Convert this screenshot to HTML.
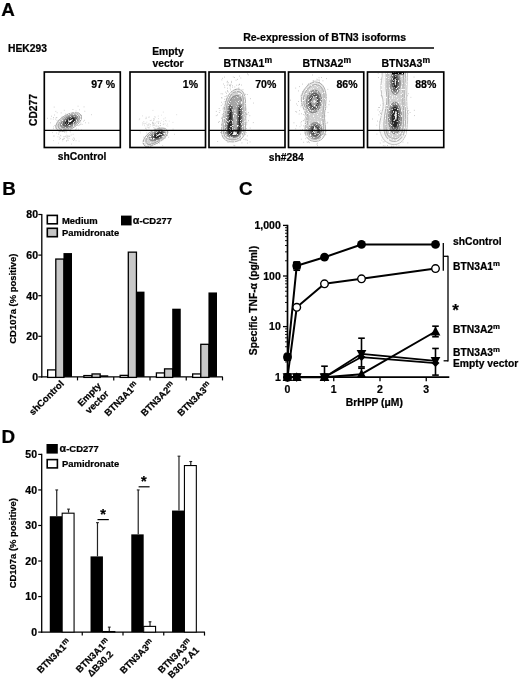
<!DOCTYPE html>
<html><head><meta charset="utf-8"><title>Figure</title>
<style>
html,body{margin:0;padding:0;background:#fff;}
svg{display:block}
text{font-family:"Liberation Sans",Arial,Helvetica,sans-serif;font-weight:bold;fill:#000;stroke:#000;stroke-width:0.22px}
</style></head><body>
<svg width="520" height="681" viewBox="0 0 520 681">
<rect width="520" height="681" fill="#fff"/>
<text x="1.3" y="16.3" font-size="18.8" text-anchor="start" >A</text>
<text x="8" y="52" font-size="10.3" text-anchor="start" >HEK293</text>
<text x="168" y="55" font-size="10.3" text-anchor="middle" >Empty</text>
<text x="168" y="67" font-size="10.3" text-anchor="middle" >vector</text>
<text x="324.6" y="41.3" font-size="10.5" text-anchor="middle" >Re-expression of BTN3 isoforms</text>
<line x1="218.75" y1="48" x2="434" y2="48" stroke="#000" stroke-width="1.3" stroke-linecap="butt"/>
<text x="247.8" y="66.8" font-size="10.55" text-anchor="middle" >BTN3A1<tspan font-size="8.6" dy="-3.4">m</tspan></text>
<text x="326.8" y="66.8" font-size="10.55" text-anchor="middle" >BTN3A2<tspan font-size="8.6" dy="-3.4">m</tspan></text>
<text x="405.8" y="66.8" font-size="10.55" text-anchor="middle" >BTN3A3<tspan font-size="8.6" dy="-3.4">m</tspan></text>
<defs><filter id="bl" x="-20%" y="-20%" width="140%" height="140%"><feGaussianBlur in="SourceGraphic" stdDeviation="0.4" result="b"/><feTurbulence type="fractalNoise" baseFrequency="0.75" numOctaves="2" seed="5" result="n"/><feColorMatrix in="n" type="matrix" values="0 0 0 0 1  0 0 0 0 1  0 0 0 0 1  0 0 0 -6 2.5" result="w"/><feComposite in="w" in2="b" operator="in" result="wm"/><feMerge><feMergeNode in="b"/><feMergeNode in="wm"/></feMerge></filter></defs>
<g filter="url(#bl)">
<path d="M67.0 123.8h.7M67.2 119.3h.7M61.6 119.8h.7M77.9 123.3h.7M77.3 122.4h.7M72.2 122.0h.7M55.7 125.7h.7M73.1 123.7h.7M55.5 111.4h.7M61.9 118.4h.7M71.4 120.7h.7M73.2 117.5h.7M71.5 123.2h.7M63.7 130.4h.7M73.5 127.6h.7M64.0 116.9h.7M66.2 120.4h.7M74.1 122.4h.7M65.4 115.7h.7M64.8 127.7h.7M62.5 122.3h.7M72.4 112.8h.7M69.4 128.2h.7M52.9 119.2h.7M68.2 116.5h.7M73.0 120.7h.7M57.3 125.6h.7M74.4 126.2h.7M80.5 123.0h.7M70.0 113.9h.7M73.9 117.6h.7M65.4 114.0h.7M61.3 118.1h.7M79.3 109.8h.7M57.3 122.3h.7M80.5 124.2h.7M53.8 107.1h.7M71.9 117.0h.7M60.0 126.4h.7M77.8 121.9h.7M71.0 123.4h.7M81.8 124.4h.7M73.1 124.0h.7M56.5 128.0h.7M76.6 123.9h.7M53.2 117.5h.7M75.7 111.0h.7M67.5 126.6h.7M58.5 129.9h.7M73.4 120.2h.7M71.6 124.6h.7M70.0 127.3h.7M63.7 118.7h.7M77.3 121.1h.7M62.0 126.2h.7M80.7 118.6h.7M58.0 120.3h.7M67.8 119.4h.7M80.2 115.4h.7M79.1 114.0h.7M62.7 124.5h.7M78.0 125.7h.7M71.8 121.8h.7M70.2 124.2h.7M67.6 122.5h.7M73.6 121.0h.7M75.1 124.1h.7M85.1 122.8h.7M65.6 119.0h.7M68.9 126.1h.7M66.3 123.1h.7M83.7 106.9h.7M60.0 122.3h.7M72.2 122.3h.7M65.6 124.6h.7M71.3 118.1h.7M88.4 123.0h.7M64.6 120.5h.7M67.2 120.7h.7M47.2 118.3h.7M77.1 114.6h.7M68.5 126.2h.7M75.8 129.2h.7M55.4 119.1h.7M66.3 124.4h.7M77.7 106.2h.7M77.7 113.0h.7M74.5 112.8h.7M70.4 127.6h.7M67.8 122.1h.7M75.4 121.8h.7M68.3 129.4h.7M77.4 119.4h.7M91.0 114.7h.7M76.3 119.5h.7M70.1 124.9h.7M70.8 124.5h.7M56.8 112.7h.7M73.9 115.7h.7M60.8 112.9h.7M79.1 125.1h.7M80.8 115.8h.7M69.0 114.7h.7M75.1 129.7h.7M61.9 129.6h.7M76.9 120.0h.7M53.2 128.7h.7M68.2 117.7h.7M72.2 123.3h.7M81.0 115.4h.7M78.1 129.2h.7M80.6 120.0h.7M63.0 126.6h.7M69.9 121.7h.7M80.4 119.6h.7M50.6 118.9h.7M54.2 125.5h.7M71.5 117.6h.7M68.9 125.6h.7M69.6 128.3h.7M68.5 126.7h.7M80.9 129.9h.7M63.6 125.8h.7M54.0 115.0h.7M53.3 126.9h.7M59.1 120.9h.7M67.5 120.8h.7M64.3 122.3h.7M83.3 121.2h.7M73.2 126.5h.7M67.4 114.1h.7M64.6 126.9h.7M55.8 117.7h.7M77.1 125.4h.7M69.1 125.4h.7M70.3 114.5h.7M56.5 117.5h.7M76.4 117.9h.7M61.8 116.8h.7M56.7 120.4h.7M59.6 123.0h.7M50.1 122.8h.7M63.9 110.3h.7M74.8 119.5h.7M51.2 116.2h.7M71.3 118.5h.7M75.2 125.1h.7M74.3 122.8h.7M79.7 124.6h.7M72.6 109.5h.7M76.2 128.2h.7M66.6 118.4h.7M84.5 111.3h.7M72.8 134.3h.7M61.6 124.8h.7M84.1 120.3h.7M73.5 126.0h.7M61.8 120.5h.7M71.3 125.5h.7M68.7 119.9h.7" stroke="#a8a8a8" stroke-width="0.7" fill="none"/>
<path d="M58.4 134.4h.7M68.9 136.5h.7M59.3 132.2h.7M78.7 141.1h.7M67.5 124.3h.7M67.4 138.2h.7M73.3 137.9h.7M63.6 138.4h.7M53.3 140.6h.7M65.8 132.8h.7M71.3 144.1h.7M56.3 133.0h.7M65.6 136.8h.7M61.8 131.6h.7M75.7 140.7h.7M57.4 129.9h.7M73.4 140.5h.7M74.0 139.6h.7M59.2 137.2h.7M52.1 132.6h.7M63.7 138.4h.7M60.0 135.4h.7M66.5 137.7h.7M67.5 136.9h.7M62.2 139.6h.7M64.3 132.3h.7M60.6 136.0h.7M63.4 136.7h.7M64.0 136.8h.7M63.3 130.3h.7M66.3 140.7h.7M66.4 135.1h.7M66.5 131.7h.7M53.6 136.3h.7M58.9 139.3h.7M58.0 124.2h.7M58.3 143.1h.7M61.9 129.8h.7M59.8 138.3h.7M66.7 136.8h.7M72.2 139.2h.7M63.9 138.7h.7M73.1 140.4h.7M69.6 131.1h.7M63.2 139.3h.7M62.4 140.8h.7M67.3 140.1h.7M70.8 135.0h.7M62.1 139.9h.7M69.4 136.0h.7M57.6 136.8h.7M66.0 141.1h.7M68.3 136.1h.7M68.7 138.4h.7M65.1 136.2h.7M62.7 139.1h.7M58.2 133.2h.7M64.0 129.4h.7M61.6 127.0h.7M60.2 138.6h.7M67.1 135.8h.7M62.7 129.6h.7M74.1 138.3h.7M70.0 132.0h.7M63.0 127.8h.7M68.3 140.2h.7M53.6 135.8h.7M67.5 128.1h.7" stroke="#b4b4b4" stroke-width="0.7" fill="none"/>
<g transform="translate(68.6,122) rotate(-29)">
<ellipse cx="0" cy="0" rx="14.2" ry="7.4" fill="#e6e6e6" stroke="#6e6e6e" stroke-width="0.5"/>
<ellipse cx="0.3" cy="0" rx="12" ry="6.1" fill="#d0d0d0" stroke="#777" stroke-width="0.5"/>
<ellipse cx="0.8" cy="0" rx="9.8" ry="4.9" fill="#a4a4a4" stroke="#5a5a5a" stroke-width="0.5"/>
<ellipse cx="1.2" cy="0" rx="7.6" ry="3.7" fill="#6a6a6a" stroke="#3a3a3a" stroke-width="0.5"/>
<ellipse cx="1.5" cy="0" rx="5.2" ry="2.4" fill="#262626" stroke="#111" stroke-width="0.4"/>
<ellipse cx="2.0" cy="0" rx="2.6" ry="0.75" fill="#f4f4f4" stroke="none" stroke-width="0.5"/>
</g></g>
<g filter="url(#bl)">
<path d="M139.4 118.7h.7M149.0 117.0h.7M154.3 125.2h.7M159.1 127.5h.7M166.0 129.8h.7M143.5 121.5h.7M145.5 118.6h.7M153.3 124.0h.7M157.9 116.1h.7M144.1 123.9h.7M152.4 122.4h.7M153.5 120.2h.7M159.6 125.8h.7M153.3 120.6h.7M152.6 110.4h.7M146.1 124.2h.7M142.0 125.0h.7M155.2 117.1h.7M152.0 122.4h.7M157.7 127.1h.7M153.7 119.7h.7M152.8 123.7h.7M159.9 125.5h.7M148.2 117.2h.7M151.0 120.3h.7M145.1 123.4h.7M150.1 124.5h.7M158.2 121.9h.7M172.6 122.4h.7M162.8 124.6h.7M162.9 112.1h.7M148.0 125.2h.7M158.8 135.7h.7M156.6 130.4h.7M160.1 128.7h.7M158.1 123.2h.7M158.1 118.6h.7M163.5 118.9h.7M156.0 134.6h.7M152.2 124.1h.7M163.3 124.1h.7M147.5 125.3h.7M158.7 127.6h.7M147.8 132.8h.7M167.3 124.1h.7M156.1 121.9h.7M165.3 120.5h.7M159.4 121.6h.7M148.4 127.6h.7M164.7 123.9h.7M148.6 128.1h.7M153.6 125.6h.7M166.2 129.7h.7M149.8 135.4h.7M154.0 127.9h.7M148.8 123.8h.7M140.0 132.9h.7M164.9 117.9h.7M142.0 115.9h.7M163.4 121.7h.7M153.5 122.4h.7M153.0 118.6h.7M154.2 116.8h.7M153.4 125.5h.7M157.7 122.8h.7M146.8 124.8h.7M150.1 131.8h.7M160.1 123.4h.7M150.2 120.5h.7M146.5 122.2h.7M156.4 126.6h.7M158.6 134.5h.7M148.4 124.1h.7M176.4 114.7h.7M149.8 124.8h.7M155.2 126.0h.7M152.1 125.8h.7M154.4 127.9h.7M138.9 119.6h.7M154.0 118.8h.7M145.6 127.1h.7M148.8 127.2h.7M160.0 125.5h.7M158.1 123.5h.7M142.7 123.8h.7M157.6 121.4h.7M153.2 127.7h.7M147.0 127.2h.7M168.9 121.2h.7M155.2 123.2h.7M166.3 125.6h.7M161.2 120.5h.7M153.9 124.0h.7M139.8 131.2h.7M161.2 115.3h.7M160.0 123.3h.7M157.6 125.8h.7M142.0 122.9h.7M165.9 121.1h.7M145.8 117.2h.7M144.2 125.7h.7M167.5 126.1h.7M156.0 135.2h.7M149.8 120.6h.7M158.2 126.7h.7M145.9 118.2h.7M156.3 125.2h.7M143.5 123.0h.7M149.7 126.3h.7M153.1 123.6h.7" stroke="#c0c0c0" stroke-width="0.7" fill="none"/>
<path d="M152.2 141.2h.7M166.1 135.5h.7M161.8 134.0h.7M155.6 140.0h.7M167.1 135.5h.7M154.4 137.8h.7M143.0 137.1h.7M149.6 138.5h.7M146.0 129.1h.7M155.3 138.0h.7M150.6 140.6h.7M152.8 134.6h.7M158.8 130.7h.7M149.6 136.9h.7M161.8 136.3h.7M157.5 134.4h.7M157.4 143.7h.7M149.5 146.5h.7M149.8 137.1h.7M156.4 141.1h.7M145.1 128.6h.7M159.8 140.2h.7M156.6 138.0h.7M162.4 138.5h.7M168.3 132.0h.7M152.0 123.2h.7M161.5 135.5h.7M162.4 145.6h.7M155.0 136.0h.7M151.0 133.6h.7M150.0 139.6h.7M155.3 137.3h.7M153.6 140.7h.7M159.0 136.4h.7M160.3 136.4h.7M145.8 142.8h.7M158.7 133.2h.7M163.6 138.4h.7M142.5 143.4h.7M157.7 140.6h.7M156.6 136.4h.7M142.6 140.9h.7M155.2 135.9h.7M157.8 137.3h.7M160.4 135.5h.7M154.7 128.4h.7M151.6 139.7h.7M165.7 135.5h.7M154.0 143.3h.7M152.4 139.9h.7M168.4 137.2h.7M164.8 134.2h.7M156.7 136.7h.7M155.9 141.5h.7M174.1 134.3h.7M150.4 139.0h.7M146.6 139.0h.7M159.6 135.9h.7M159.2 130.8h.7M161.1 130.8h.7M149.4 134.8h.7M151.8 140.4h.7M155.7 135.4h.7M159.3 143.3h.7M155.0 138.5h.7M164.9 138.1h.7M172.7 129.1h.7M154.7 138.7h.7M162.7 139.7h.7M152.8 132.8h.7M155.8 141.1h.7M146.3 132.9h.7M154.8 129.3h.7M152.9 135.3h.7M158.6 134.2h.7M147.9 135.4h.7M154.6 134.3h.7M155.1 140.0h.7" stroke="#b0b0b0" stroke-width="0.7" fill="none"/>
<g transform="translate(155.2,136.6) rotate(-27)">
<path d="M-13.5,3.5 C-15,-1 -10,-5.5 -2,-6.3 C6,-7 13.5,-4.5 13.5,0 C13.5,4.5 6,7 -2,6.8 C-8,6.6 -12.5,6.5 -13.5,3.5Z" fill="#e6e6e6" stroke="#6e6e6e" stroke-width="0.5"/>
<path d="M-10.5,2.8 C-11.5,-1 -8,-4.4 -1.5,-5 C5,-5.6 11.3,-3.6 11.3,0 C11.3,3.6 5,5.5 -1.5,5.4 C-6,5.3 -9.8,5.2 -10.5,2.8Z" fill="#d0d0d0" stroke="#777" stroke-width="0.5"/>
<ellipse cx="2.0" cy="0" rx="8.3" ry="4.1" fill="#a4a4a4" stroke="#5a5a5a" stroke-width="0.5"/>
<ellipse cx="2.8" cy="0" rx="6.4" ry="3.1" fill="#6a6a6a" stroke="#3a3a3a" stroke-width="0.5"/>
<ellipse cx="3.3" cy="0" rx="4.4" ry="2.0" fill="#262626" stroke="#111" stroke-width="0.4"/>
<ellipse cx="3.8" cy="0" rx="2.4" ry="0.6" fill="#f4f4f4" stroke="none" stroke-width="0.5"/>
</g></g>
<g filter="url(#bl)">
<path d="M241.2 138.6h.7M228.4 106.7h.7M217.4 141.5h.7M228.8 112.5h.7M236.9 92.6h.7M236.5 112.6h.7M221.6 117.4h.7M241.3 85.0h.7M238.7 116.1h.7M236.6 119.6h.7M242.0 109.6h.7M239.2 106.9h.7M238.2 100.8h.7M232.8 139.0h.7M236.4 110.6h.7M226.1 101.1h.7M234.8 127.1h.7M236.3 120.9h.7M233.2 133.3h.7M231.0 104.8h.7M239.3 114.0h.7M231.7 104.4h.7M231.8 122.4h.7M235.8 94.9h.7M236.3 115.7h.7M227.0 124.6h.7M231.7 108.0h.7M238.7 132.8h.7M229.0 119.6h.7M230.3 130.9h.7M229.3 125.2h.7M247.9 74.9h.7M230.7 120.5h.7M232.9 103.0h.7M247.5 114.2h.7M222.8 125.8h.7M222.3 130.3h.7M229.7 115.2h.7M241.7 114.8h.7M224.5 87.6h.7M241.2 124.1h.7M228.2 125.9h.7M236.7 122.7h.7M218.8 108.5h.7M239.4 124.0h.7M239.2 76.1h.7M234.6 120.4h.7M250.1 98.7h.7M231.4 113.5h.7M239.3 106.4h.7M241.0 101.2h.7M235.2 105.1h.7M234.5 102.6h.7M223.1 129.4h.7M235.5 104.6h.7M234.8 127.9h.7M227.1 111.3h.7M237.0 120.9h.7M231.3 81.4h.7M241.6 117.9h.7M233.6 108.8h.7M235.2 106.6h.7M226.8 101.9h.7M229.6 103.8h.7M226.0 122.5h.7M225.0 122.9h.7M226.9 118.3h.7M242.4 116.0h.7M228.7 113.7h.7M234.5 87.0h.7M229.6 115.4h.7M230.5 114.2h.7M238.3 124.5h.7M239.4 121.8h.7M231.6 112.7h.7M231.7 108.3h.7M232.3 87.1h.7M231.3 112.6h.7M227.2 112.6h.7M236.9 110.5h.7M247.0 73.9h.7M232.2 85.6h.7M217.2 114.9h.7M236.9 108.5h.7M237.1 79.4h.7M239.0 118.6h.7M233.6 104.2h.7M237.6 105.7h.7M235.0 105.3h.7M218.9 112.5h.7M234.8 124.3h.7M227.8 112.5h.7M237.5 115.2h.7M241.6 142.9h.7M227.6 84.2h.7M239.1 135.9h.7M239.5 125.2h.7M229.5 102.3h.7M239.3 99.3h.7M221.7 98.0h.7M249.7 141.9h.7M229.0 102.1h.7M235.0 101.8h.7M242.0 111.8h.7M226.4 132.6h.7M229.7 116.3h.7M233.4 108.3h.7M235.6 102.6h.7M221.5 79.9h.7M225.3 101.6h.7M233.4 113.8h.7M237.1 114.8h.7M228.3 102.4h.7M219.7 110.5h.7M236.7 120.9h.7M232.7 110.4h.7M239.6 113.2h.7M238.3 121.7h.7M234.9 132.6h.7M229.8 107.6h.7M228.2 101.0h.7M243.6 139.4h.7M233.6 121.5h.7M241.1 125.1h.7M241.3 94.1h.7M229.3 119.8h.7M242.8 114.6h.7M227.9 107.7h.7M229.2 100.1h.7M243.3 103.6h.7M233.6 145.4h.7M241.2 118.0h.7M229.5 119.2h.7M244.0 122.3h.7M241.7 114.5h.7M236.9 110.0h.7M236.3 132.5h.7M224.2 112.1h.7M235.1 104.4h.7M231.5 124.8h.7M246.5 122.4h.7M235.6 89.7h.7M246.0 114.2h.7M233.3 96.2h.7M233.1 96.6h.7M234.0 120.0h.7M233.7 117.2h.7M228.0 134.4h.7M229.3 85.7h.7M232.3 101.5h.7M226.9 107.7h.7M235.4 95.3h.7M232.6 134.4h.7M237.9 110.7h.7M234.3 111.2h.7M233.2 124.0h.7M232.9 76.9h.7M233.4 99.7h.7M237.7 103.8h.7M234.5 145.7h.7M226.7 96.1h.7M224.3 77.1h.7M221.3 118.5h.7M229.4 85.0h.7M223.9 122.3h.7M228.5 107.5h.7M235.6 133.3h.7M246.1 128.5h.7M234.4 115.8h.7M245.2 134.4h.7M231.5 119.9h.7M235.4 113.8h.7M230.2 93.1h.7M230.0 89.8h.7M241.5 121.0h.7M225.7 133.9h.7M239.3 84.4h.7M245.5 125.1h.7M246.9 94.5h.7M236.9 119.3h.7M234.8 115.6h.7M240.3 90.6h.7M225.4 92.1h.7M229.9 103.9h.7M235.9 117.0h.7M233.7 102.9h.7M230.6 127.3h.7M238.5 114.5h.7M231.4 136.3h.7M229.6 122.7h.7M241.0 109.0h.7M238.9 96.3h.7M240.1 116.0h.7M223.2 123.0h.7M227.7 132.2h.7M229.1 110.5h.7M235.3 108.0h.7M235.2 104.7h.7M237.9 113.1h.7M241.0 113.5h.7M221.9 114.4h.7M236.5 129.1h.7M226.5 136.2h.7M232.5 123.2h.7M231.1 96.3h.7M240.6 126.6h.7M243.5 125.9h.7M229.8 88.1h.7M229.3 102.9h.7M228.2 121.7h.7M235.6 109.0h.7M234.6 110.8h.7M234.9 124.3h.7M239.7 102.7h.7M223.7 134.4h.7M234.2 129.6h.7M222.8 108.1h.7M233.7 91.4h.7M230.1 123.9h.7M240.5 136.9h.7M227.9 92.0h.7M236.9 127.1h.7M234.8 93.5h.7M238.6 124.9h.7M237.1 105.7h.7M235.5 124.9h.7M229.9 85.3h.7M235.6 120.2h.7M233.6 126.3h.7M229.7 111.8h.7M231.5 121.6h.7M243.9 109.2h.7M246.9 135.9h.7M238.6 121.8h.7M245.0 110.3h.7M232.8 97.1h.7M236.6 133.2h.7M237.0 119.3h.7M232.2 115.5h.7M224.2 128.7h.7M230.8 96.4h.7M228.6 100.6h.7M239.1 128.9h.7M224.7 126.9h.7M239.3 104.3h.7M223.8 101.8h.7M229.4 118.1h.7M231.2 82.6h.7M235.0 90.0h.7M239.4 94.9h.7M229.0 100.2h.7M230.0 132.5h.7M239.0 122.0h.7M235.6 89.8h.7M230.1 104.7h.7M227.1 120.6h.7M228.7 102.4h.7M226.7 82.1h.7M237.4 133.0h.7M234.6 98.4h.7M215.9 115.6h.7M241.4 117.5h.7M239.5 135.2h.7M240.8 106.4h.7M240.3 124.6h.7M223.5 106.9h.7M224.2 111.4h.7M237.3 97.0h.7M220.1 132.5h.7M235.9 135.1h.7M224.9 128.9h.7M247.0 143.1h.7M232.1 117.0h.7M232.5 128.0h.7M240.2 114.3h.7M224.7 124.1h.7M230.4 122.4h.7M235.2 137.4h.7M240.9 106.2h.7M235.8 139.5h.7M230.0 119.5h.7M241.2 131.9h.7M236.9 93.2h.7M225.3 116.7h.7M227.9 130.1h.7M238.5 87.9h.7M228.2 115.5h.7M230.3 110.7h.7M236.6 100.9h.7M236.5 103.5h.7M230.0 121.1h.7M229.8 117.3h.7M243.9 113.4h.7M232.6 124.0h.7M231.1 129.2h.7M225.2 122.3h.7M230.2 101.0h.7M245.0 100.2h.7M244.9 122.9h.7M242.9 98.3h.7M241.3 134.9h.7M232.7 111.1h.7M249.5 115.7h.7M230.8 103.6h.7M236.4 118.0h.7M234.7 138.8h.7M231.4 120.1h.7M243.0 97.9h.7M240.3 140.5h.7M224.7 96.5h.7M226.8 85.3h.7M236.4 85.2h.7M236.7 134.8h.7M223.0 108.3h.7M221.0 124.7h.7M228.7 109.0h.7M233.9 121.2h.7M231.2 113.2h.7M229.9 114.7h.7M225.9 114.0h.7M220.9 105.6h.7M245.9 114.2h.7M225.3 116.9h.7M227.2 88.2h.7M228.7 124.1h.7M236.0 111.5h.7M227.5 96.8h.7M242.3 116.7h.7M227.3 81.3h.7M226.0 111.8h.7M234.9 110.6h.7M231.7 92.4h.7M226.7 138.3h.7M228.6 125.7h.7M222.5 108.9h.7M235.2 128.5h.7M226.2 121.9h.7M236.0 101.9h.7M236.6 99.5h.7M228.3 112.7h.7M215.9 111.4h.7M227.0 91.1h.7M230.7 124.4h.7M230.9 132.0h.7M226.0 93.3h.7M243.6 119.0h.7M239.6 100.6h.7M238.7 116.9h.7M237.7 113.4h.7M241.3 103.3h.7M227.2 90.8h.7M241.0 101.9h.7M226.7 98.9h.7M230.6 93.9h.7M231.6 103.6h.7M229.9 98.6h.7M233.7 106.1h.7M234.2 116.7h.7M235.7 80.2h.7M230.0 101.1h.7M238.5 89.3h.7M228.9 108.6h.7M231.3 127.9h.7M230.6 127.5h.7M224.0 85.8h.7M241.4 119.5h.7M236.7 114.8h.7M236.6 94.8h.7M239.7 105.0h.7M239.9 114.3h.7M220.7 93.7h.7M240.8 110.9h.7M230.9 116.6h.7M230.7 104.8h.7M234.2 115.2h.7M243.4 113.7h.7M245.7 140.0h.7M244.7 128.9h.7M234.3 115.1h.7M232.6 102.0h.7M233.1 103.4h.7M244.2 121.0h.7M230.6 84.3h.7M233.2 106.8h.7M226.4 96.0h.7M218.9 121.5h.7M233.3 110.8h.7M242.9 115.0h.7M234.6 107.4h.7M229.6 135.5h.7M240.0 138.7h.7M231.2 113.5h.7M227.8 127.5h.7M224.4 121.5h.7M240.6 134.2h.7M227.4 129.3h.7M228.9 101.6h.7M224.9 130.3h.7M244.2 104.1h.7M228.6 107.9h.7M249.8 128.1h.7M230.0 86.1h.7M229.1 130.8h.7M245.6 109.0h.7M229.0 105.4h.7M221.2 126.6h.7M226.4 128.9h.7M222.4 93.9h.7M235.4 101.5h.7M238.6 113.1h.7M225.9 122.3h.7M239.0 84.3h.7M245.4 120.5h.7M238.4 85.1h.7M228.8 107.8h.7M240.5 91.1h.7M227.8 82.6h.7M231.9 118.2h.7M222.5 104.1h.7M236.8 136.8h.7M237.8 108.4h.7M225.8 99.0h.7M229.2 115.2h.7M233.2 138.0h.7M235.4 96.9h.7M243.5 127.2h.7M234.2 102.2h.7M221.3 97.7h.7M239.4 101.0h.7M224.9 115.9h.7M235.1 122.1h.7M237.8 134.1h.7M228.0 127.7h.7M227.1 123.4h.7M234.7 116.6h.7M239.8 112.7h.7M240.7 126.1h.7M234.4 104.5h.7M228.6 105.1h.7M232.2 112.6h.7M252.9 122.6h.7M238.5 100.1h.7M228.9 108.2h.7M234.7 97.5h.7M244.0 104.6h.7M240.5 78.0h.7M233.5 117.2h.7M234.7 122.0h.7M235.3 115.4h.7M221.2 102.3h.7M218.3 122.4h.7M235.5 110.1h.7M228.2 104.3h.7M245.5 139.0h.7M233.1 132.3h.7M223.2 84.0h.7M230.4 99.9h.7M229.9 115.8h.7M253.2 103.1h.7M233.8 117.1h.7M233.3 127.0h.7M245.0 94.3h.7M234.6 109.0h.7M235.8 90.0h.7M222.1 78.3h.7M236.9 115.9h.7M234.0 77.5h.7M231.1 101.7h.7M224.3 99.3h.7M238.0 121.2h.7M233.4 120.7h.7M229.6 114.1h.7M233.8 121.3h.7M233.0 110.9h.7M232.6 103.3h.7M248.0 120.7h.7M242.6 89.7h.7M238.0 125.6h.7M245.8 132.7h.7M238.5 95.3h.7M227.8 117.0h.7M236.8 97.7h.7M231.0 107.0h.7M233.9 118.0h.7M231.6 94.4h.7M241.6 136.9h.7M232.8 128.4h.7M236.4 122.9h.7M236.6 101.6h.7M237.2 128.2h.7M227.7 142.5h.7M247.1 140.3h.7M246.4 124.1h.7M231.3 104.0h.7M228.2 114.7h.7M233.3 123.1h.7M248.3 112.6h.7M237.9 120.1h.7M235.3 109.9h.7M232.7 100.6h.7M234.7 112.6h.7M235.6 100.2h.7M233.8 113.7h.7M237.4 97.1h.7M236.2 127.7h.7M237.4 107.5h.7M230.3 109.5h.7M238.2 136.3h.7M232.5 103.4h.7M235.9 116.1h.7M227.6 101.9h.7" stroke="#9a9a9a" stroke-width="0.7" fill="none"/>
<g transform="translate(234,115)">
<path d="M4,-26 C9,-26 11.5,-20 11.5,-12 C12,-2 12,10 11,17 C10,24 4,27 -2,27 C-8,27 -12.5,23 -12.5,17 C-12.5,10 -11,2 -10,-4 C-9,-12 -7,-19 -3,-23 C-1,-25 2,-26 4,-26Z" fill="#e6e6e6" stroke="#6e6e6e" stroke-width="0.5"/>
<path d="M4,-23.5 C8,-23.5 9.8,-18 9.8,-11 C10.2,-2 10.2,9 9.3,16 C8.5,22 3.5,24.8 -1.8,24.8 C-7,24.8 -10.6,21.5 -10.6,16.5 C-10.6,10 -9.2,2 -8.2,-4 C-7.2,-11 -5.6,-17.5 -2.4,-21 C-0.8,-22.8 2,-23.5 4,-23.5Z" fill="#d0d0d0" stroke="#777" stroke-width="0.5"/>
<path d="M3.6,-19.5 C6.8,-19.5 8,-15 8,-9 C8.3,-1 8.3,9 7.6,15 C7,20.5 3,22.6 -1.4,22.6 C-5.8,22.6 -8.6,20 -8.6,15.8 C-8.6,10 -7.4,3 -6.6,-3 C-5.8,-9.5 -4.6,-14.5 -2,-17.5 C-0.6,-19 1.8,-19.5 3.6,-19.5Z" fill="#a4a4a4" stroke="#5a5a5a" stroke-width="0.5"/>
<path d="M-4.6,-9 C-3.2,-10.5 -1.6,-9.5 -1.6,-7 L-1.2,14 C-1,16.5 3,16.5 3.4,14 L4,-7.5 C4,-10 5.8,-10.5 6.9,-9 C7.6,-3 7.6,8 7,14.5 C6.3,20.5 2.6,21.6 -0.8,21.6 C-4.8,21.6 -7,19.5 -7,15 C-7,8 -5.8,-2 -4.6,-9Z" fill="#6a6a6a" stroke="#3a3a3a" stroke-width="0.4"/>
<path d="M-3.9,-6 C-3.3,-7 -2.5,-6.5 -2.5,-5 L-2.2,14.5 C-2,18 4,18 4.4,14.5 L4.9,-5.5 C4.9,-7 5.6,-7.3 6.1,-6.3 C6.5,-2 6.5,8 6,14.5 C5.4,19.8 2.4,20.6 -0.6,20.6 C-4,20.6 -5.9,18.8 -5.9,15 C-5.9,9 -4.8,0 -3.9,-6Z" fill="#262626" stroke="none" stroke-width="0.5"/>
<ellipse cx="1.0" cy="18.6" rx="1.9" ry="1.5" fill="#fafafa" stroke="none" stroke-width="0.5"/>
<path d="M0.6,-6 L1.6,-6 L1.4,10 L0.8,10Z" fill="#c8c8c8" stroke="none" stroke-width="0.5"/>
</g></g>
<g filter="url(#bl)">
<path d="M312.8 121.7h.7M305.1 94.7h.7M317.0 91.4h.7M314.3 116.6h.7M312.7 94.7h.7M313.1 105.7h.7M315.9 97.6h.7M321.1 84.2h.7M312.3 111.1h.7M320.2 101.3h.7M317.3 101.9h.7M318.7 138.8h.7M310.7 118.1h.7M307.0 126.6h.7M322.0 111.6h.7M305.6 117.4h.7M321.5 128.4h.7M319.2 81.7h.7M308.7 133.8h.7M304.9 129.1h.7M326.7 123.2h.7M321.3 105.7h.7M304.9 109.4h.7M312.1 110.2h.7M318.4 108.7h.7M314.8 117.8h.7M313.5 140.5h.7M316.6 112.4h.7M312.0 101.0h.7M322.9 113.4h.7M305.9 102.0h.7M312.5 103.9h.7M321.1 92.4h.7M316.9 113.3h.7M305.3 111.8h.7M312.8 119.0h.7M310.3 115.9h.7M301.8 93.7h.7M319.0 127.7h.7M313.4 101.4h.7M321.1 77.5h.7M307.9 121.8h.7M318.1 94.5h.7M300.3 134.2h.7M314.6 96.7h.7M313.9 125.4h.7M295.4 128.8h.7M318.7 77.7h.7M318.9 82.5h.7M321.5 117.4h.7M329.3 101.2h.7M313.5 127.8h.7M309.0 99.7h.7M310.9 109.8h.7M305.9 118.7h.7M317.3 112.1h.7M325.4 105.8h.7M322.6 102.3h.7M318.8 80.0h.7M314.9 108.2h.7M310.0 101.2h.7M311.1 99.5h.7M298.1 101.5h.7M309.7 102.6h.7M306.1 108.8h.7M319.0 107.0h.7M310.1 132.7h.7M320.3 125.7h.7M321.6 105.8h.7M312.6 128.8h.7M309.6 109.1h.7M316.1 117.0h.7M311.6 126.7h.7M312.3 122.6h.7M321.0 121.5h.7M318.6 92.4h.7M304.3 101.1h.7M316.8 135.0h.7M304.9 115.9h.7M307.5 99.3h.7M311.6 122.1h.7M315.0 129.9h.7M306.6 125.2h.7M320.0 112.1h.7M316.8 102.0h.7M305.9 104.5h.7M310.1 137.4h.7M314.9 116.0h.7M318.7 98.5h.7M319.9 117.0h.7M302.9 120.6h.7M317.4 118.2h.7M324.6 104.4h.7M317.1 123.0h.7M307.2 130.2h.7M303.3 90.2h.7M317.2 93.6h.7M312.7 84.7h.7M314.0 92.9h.7M315.9 86.5h.7M316.6 106.7h.7M313.9 109.9h.7M314.4 89.9h.7M295.5 111.5h.7M306.9 103.7h.7M316.5 79.2h.7M308.2 101.2h.7M306.1 116.2h.7M312.5 97.9h.7M306.6 123.9h.7M308.9 120.4h.7M316.6 80.7h.7M305.9 111.0h.7M315.9 123.5h.7M319.1 127.5h.7M310.9 107.6h.7M318.9 104.2h.7M320.9 85.6h.7M318.1 108.2h.7M299.7 126.7h.7M315.7 111.3h.7M306.0 103.6h.7M324.1 97.8h.7M305.1 108.9h.7M310.7 96.4h.7M307.6 127.8h.7M303.4 142.3h.7M309.7 93.5h.7M319.0 120.0h.7M306.2 123.0h.7M300.6 96.2h.7M321.4 106.9h.7M304.4 119.2h.7M319.9 110.6h.7M300.9 105.5h.7M316.4 123.3h.7M326.5 107.0h.7M310.1 110.4h.7M321.9 95.9h.7M319.1 100.2h.7M316.7 122.0h.7M305.2 109.6h.7M315.2 120.4h.7M307.0 95.1h.7M312.2 107.4h.7M303.0 125.9h.7M309.8 134.0h.7M319.5 111.3h.7M318.6 93.2h.7M311.2 101.8h.7M304.6 111.3h.7M312.5 134.0h.7M290.0 100.2h.7M307.1 103.6h.7M316.5 117.5h.7M313.7 103.4h.7M317.0 116.8h.7M300.6 106.8h.7M303.9 92.1h.7M314.5 112.0h.7M314.3 97.0h.7M312.1 96.4h.7M316.2 122.0h.7M325.8 131.3h.7M307.9 103.7h.7M306.9 115.9h.7M327.4 122.3h.7M298.1 90.9h.7M304.5 119.2h.7M313.5 115.8h.7M326.0 97.8h.7M307.6 142.5h.7M315.9 98.5h.7M299.3 86.6h.7M296.4 112.1h.7M313.8 126.9h.7M312.5 99.9h.7M308.3 141.4h.7M301.1 113.8h.7M313.7 120.9h.7M310.7 119.0h.7M319.2 108.6h.7M310.3 108.0h.7M306.7 107.7h.7M311.4 114.4h.7M322.9 131.9h.7M310.4 120.6h.7M315.6 123.2h.7M313.7 115.3h.7M310.2 98.4h.7M319.6 131.8h.7M318.1 118.0h.7M315.4 103.8h.7M301.0 121.6h.7M314.9 102.1h.7M306.7 131.4h.7M300.9 139.2h.7M308.5 110.7h.7M310.0 113.5h.7M312.0 99.0h.7M321.0 98.4h.7M309.9 119.9h.7M309.7 104.0h.7M316.0 105.1h.7M304.8 109.4h.7M312.0 138.3h.7M305.8 126.5h.7M308.0 105.3h.7M311.2 115.3h.7M319.5 139.0h.7M309.0 132.3h.7M320.5 124.0h.7M308.2 125.4h.7M312.7 116.7h.7M311.6 121.6h.7M321.3 129.1h.7M312.1 126.9h.7M323.7 96.0h.7M323.8 89.6h.7M317.3 120.5h.7M323.9 115.5h.7M310.1 98.3h.7M304.7 123.3h.7M311.8 99.5h.7M317.2 98.8h.7M310.4 103.7h.7M325.1 134.4h.7M312.4 85.9h.7M315.4 112.1h.7M315.9 120.0h.7M311.3 125.8h.7M319.4 114.4h.7M310.7 103.3h.7M318.3 93.4h.7M312.4 99.0h.7M303.7 120.7h.7M313.3 111.6h.7M319.6 87.1h.7M313.0 115.6h.7M319.3 93.6h.7M318.5 114.5h.7M323.0 129.2h.7M317.3 145.4h.7M313.5 104.2h.7M311.1 96.0h.7M313.3 80.9h.7M312.9 117.8h.7M320.4 105.4h.7M323.2 100.6h.7M312.6 81.0h.7M308.2 98.3h.7M323.7 119.3h.7M306.0 119.3h.7M316.8 107.4h.7M313.7 106.2h.7M309.8 83.3h.7M312.9 131.1h.7M323.3 106.6h.7M308.4 107.7h.7M319.6 116.5h.7M309.5 116.7h.7M312.1 119.1h.7M310.7 88.0h.7M313.9 122.9h.7M305.9 109.3h.7M319.5 105.2h.7M309.1 142.7h.7M319.2 127.0h.7M307.0 136.4h.7M302.2 102.9h.7M318.5 131.7h.7M307.2 100.7h.7M314.8 81.0h.7M317.9 119.7h.7M310.5 119.4h.7M318.8 115.8h.7M317.1 134.5h.7M310.3 113.5h.7M309.9 127.1h.7M310.7 118.4h.7M314.4 112.0h.7M325.1 109.7h.7M323.1 123.8h.7M322.4 108.4h.7M319.8 122.7h.7M309.3 115.2h.7M312.6 110.4h.7M322.3 99.9h.7M302.1 84.1h.7M310.4 101.0h.7M313.6 119.7h.7M325.4 115.8h.7M316.6 99.7h.7M317.4 132.0h.7M322.6 80.8h.7M319.5 135.4h.7M319.1 87.9h.7M311.4 120.1h.7M316.3 98.5h.7M307.5 125.9h.7M304.5 133.1h.7M313.6 115.6h.7M304.5 101.8h.7M318.1 88.3h.7M327.5 89.4h.7M305.3 111.7h.7M316.7 122.3h.7M311.0 107.8h.7M311.9 102.2h.7M296.1 125.8h.7M315.2 113.4h.7M309.3 114.9h.7M313.4 109.8h.7M320.9 84.5h.7M315.2 94.6h.7M311.4 134.0h.7M306.2 109.5h.7M309.5 125.6h.7M306.9 85.1h.7M317.0 105.6h.7M311.4 127.6h.7M307.5 105.3h.7M314.5 117.4h.7M310.0 126.9h.7M328.6 104.7h.7M326.1 78.6h.7M323.0 105.7h.7M314.4 105.8h.7M309.2 91.4h.7M310.8 130.9h.7M321.2 105.6h.7M310.0 100.2h.7M305.4 138.7h.7M318.0 112.8h.7M310.2 95.3h.7M322.3 123.0h.7M307.1 126.2h.7M306.1 120.9h.7M307.0 104.6h.7M316.8 117.6h.7M320.3 98.1h.7M324.1 131.7h.7M313.4 118.1h.7M308.3 108.7h.7M304.6 112.4h.7M314.8 131.6h.7M319.9 123.5h.7M311.1 107.5h.7M311.2 114.4h.7M300.5 122.8h.7M303.0 103.1h.7M313.6 103.1h.7M324.7 109.5h.7M324.1 129.0h.7M310.2 117.2h.7M322.2 105.9h.7M314.1 102.4h.7M313.9 105.6h.7M314.1 126.4h.7M322.9 113.0h.7M314.9 124.2h.7M311.6 94.7h.7M321.0 96.6h.7M319.8 96.2h.7M325.8 95.0h.7M319.2 134.0h.7M307.0 133.8h.7M308.0 83.9h.7M318.4 121.8h.7M313.1 106.3h.7M311.0 106.6h.7M301.5 102.3h.7M325.6 134.8h.7M311.1 100.1h.7M316.2 127.3h.7M318.4 93.0h.7M314.6 113.2h.7M323.2 129.4h.7M317.0 129.7h.7M310.8 134.6h.7M310.6 117.1h.7M319.7 97.0h.7M308.8 84.0h.7M314.6 110.2h.7M311.3 118.7h.7M299.3 110.6h.7M314.1 106.9h.7M318.8 137.9h.7M310.5 96.6h.7M309.4 112.4h.7M317.4 97.8h.7M320.2 95.3h.7M319.1 117.6h.7M316.6 144.1h.7M311.7 108.5h.7M316.7 124.3h.7M304.5 115.2h.7M308.5 120.7h.7M322.7 111.8h.7M312.8 113.8h.7M293.6 122.8h.7M317.3 113.5h.7M310.8 99.8h.7M312.3 129.6h.7M312.8 131.7h.7M296.2 103.9h.7M315.3 110.8h.7M302.3 100.8h.7M321.9 91.2h.7M306.8 94.1h.7M309.8 120.9h.7M317.5 79.8h.7M323.3 101.9h.7M309.5 136.6h.7M313.0 92.0h.7M309.2 99.8h.7M306.7 105.9h.7M319.4 116.4h.7M306.8 112.8h.7M313.7 122.7h.7M311.3 118.0h.7M327.7 112.5h.7M306.2 116.0h.7M308.1 105.3h.7M314.8 116.2h.7M311.6 124.0h.7M312.2 91.0h.7M319.4 105.4h.7M321.7 100.9h.7M317.3 115.8h.7M295.4 88.1h.7M306.0 132.6h.7M300.8 125.0h.7M320.8 118.6h.7M318.0 103.4h.7M313.4 114.5h.7M316.3 121.9h.7M312.1 100.2h.7M309.7 117.3h.7M302.3 91.7h.7M310.7 102.5h.7M311.2 107.1h.7M318.7 80.6h.7M311.4 118.3h.7M316.8 129.4h.7M320.6 94.9h.7M317.8 105.9h.7M308.1 134.6h.7M309.3 97.9h.7M310.8 97.9h.7M320.3 116.8h.7M322.9 117.3h.7M309.4 127.1h.7M309.1 103.9h.7M312.4 111.6h.7M321.5 101.7h.7M315.9 110.6h.7M305.0 94.1h.7M312.0 117.2h.7M315.7 118.4h.7M313.8 104.1h.7M316.4 95.6h.7M304.4 105.9h.7M303.9 103.1h.7M308.5 102.5h.7M313.2 98.7h.7M310.6 84.6h.7M314.5 97.4h.7M308.1 114.7h.7M297.0 105.4h.7M314.1 112.6h.7M303.4 114.5h.7M314.5 96.0h.7M318.5 110.2h.7M313.6 104.1h.7M317.2 112.5h.7M321.2 118.0h.7M309.3 107.6h.7M319.7 105.4h.7M316.1 119.1h.7M312.3 75.0h.7M314.4 114.3h.7M314.4 99.3h.7M321.7 108.9h.7M309.3 99.9h.7M315.9 94.1h.7M306.7 141.9h.7M322.4 127.3h.7M322.7 120.2h.7M302.1 129.5h.7M321.9 118.6h.7M300.2 130.2h.7M322.8 103.4h.7M314.4 123.0h.7M312.9 128.0h.7M314.1 121.7h.7M314.1 88.1h.7M315.4 131.3h.7M321.2 137.6h.7M317.3 101.8h.7M313.6 81.2h.7M312.2 125.1h.7M298.8 114.1h.7M319.1 131.6h.7M307.2 100.9h.7M300.8 95.2h.7M317.1 143.1h.7M305.7 132.4h.7M316.4 103.3h.7" stroke="#9a9a9a" stroke-width="0.7" fill="none"/>
<g transform="translate(314.5,112)">
<path d="M1,-30 C7,-30 11,-25 11.5,-17 C12,-9 10.5,-3 10,3 C9.7,8 11.5,12 11,19 C10.5,26 6,29.5 0.5,29.5 C-5,29.5 -9,26 -9.5,19 C-10,13 -7.5,8 -8.5,3 C-9.5,-2 -13.5,-6 -13.3,-13 C-13,-20 -7,-30 1,-30Z" fill="#e6e6e6" stroke="#6e6e6e" stroke-width="0.5"/>
<path d="M1,-27.5 C6,-27.5 9.3,-23 9.7,-16.5 C10.1,-9 8.8,-3 8.4,3 C8.1,8 9.7,12 9.2,18.5 C8.7,24.5 5,27.3 0.5,27.3 C-4,27.3 -7.3,24.5 -7.7,18.5 C-8.1,13 -5.9,8 -6.8,3 C-7.7,-2 -11.3,-6.5 -11.1,-13 C-10.8,-19 -5.5,-27.5 1,-27.5Z" fill="#d0d0d0" stroke="#777" stroke-width="0.5"/>
<ellipse cx="-0.6" cy="-10.5" rx="7.6" ry="11.5" fill="#a4a4a4" stroke="#5a5a5a" stroke-width="0.5" transform="rotate(8 -0.6 -10.5)"/>
<ellipse cx="-0.4" cy="-10.5" rx="5.6" ry="8.6" fill="#6a6a6a" stroke="#3a3a3a" stroke-width="0.4" transform="rotate(8 -0.4 -10.5)"/>
<ellipse cx="-0.3" cy="-10.5" rx="3.6" ry="5.8" fill="#a4a4a4" stroke="#2a2a2a" stroke-width="0.9" transform="rotate(8 -0.3 -10.5)"/>
<ellipse cx="-0.2" cy="-10.5" rx="1.0" ry="1.8" fill="#f0f0f0" stroke="none" stroke-width="0.5"/>
<ellipse cx="0.8" cy="18.5" rx="6.6" ry="8" fill="#a4a4a4" stroke="#5a5a5a" stroke-width="0.5"/>
<ellipse cx="0.8" cy="18.5" rx="4.8" ry="6" fill="#6a6a6a" stroke="#3a3a3a" stroke-width="0.4"/>
<ellipse cx="0.8" cy="18.5" rx="3.0" ry="3.9" fill="#a4a4a4" stroke="#2a2a2a" stroke-width="0.9"/>
<ellipse cx="0.8" cy="18" rx="0.9" ry="1.3" fill="#f0f0f0" stroke="none" stroke-width="0.5"/>
</g></g>
<clipPath id="c5"><rect x="367.5" y="72.0" width="76.25" height="75.5"/></clipPath>
<g clip-path="url(#c5)"><g filter="url(#bl)">
<path d="M392.5 112.3h.7M407.5 142.9h.7M408.4 110.6h.7M399.7 134.5h.7M396.5 115.0h.7M391.8 100.1h.7M384.6 145.9h.7M394.8 107.3h.7M394.2 143.3h.7M392.3 102.8h.7M387.9 107.6h.7M390.0 112.0h.7M414.3 115.6h.7M387.2 145.5h.7M398.9 123.9h.7M397.9 123.9h.7M397.6 135.4h.7M399.9 134.2h.7M389.6 108.0h.7M388.0 126.6h.7M398.7 98.9h.7M401.4 86.3h.7M392.4 120.4h.7M392.8 115.5h.7M401.0 114.4h.7M385.5 121.9h.7M392.3 110.2h.7M389.1 81.1h.7M384.5 101.1h.7M400.8 85.4h.7M388.1 118.4h.7M376.6 134.1h.7M387.8 120.9h.7M389.7 114.0h.7M393.7 108.0h.7M380.5 79.4h.7M392.7 135.5h.7M389.3 118.4h.7M394.1 117.4h.7M399.8 78.8h.7M394.9 104.5h.7M390.9 91.4h.7M387.6 87.9h.7M404.6 108.2h.7M398.1 89.0h.7M394.0 136.0h.7M392.7 88.5h.7M391.4 88.6h.7M383.5 103.5h.7M390.3 92.2h.7M387.0 89.9h.7M394.6 135.2h.7M382.0 113.3h.7M385.1 104.9h.7M393.7 118.9h.7M400.7 97.2h.7M384.5 104.3h.7M395.0 94.4h.7M399.1 140.8h.7M383.3 115.1h.7M394.4 103.6h.7M383.3 133.6h.7M394.5 98.7h.7M396.0 120.5h.7M398.2 119.3h.7M395.8 85.1h.7M390.1 110.5h.7M390.4 87.4h.7M380.6 112.9h.7M393.2 96.6h.7M390.2 90.7h.7M387.9 106.1h.7M388.6 121.2h.7M392.0 110.6h.7M395.8 132.8h.7M397.1 112.4h.7M391.9 92.3h.7M390.7 121.3h.7M394.5 100.4h.7M383.9 78.1h.7M395.2 128.0h.7M395.6 81.2h.7M391.5 112.3h.7M386.7 114.8h.7M391.6 91.7h.7M384.5 123.8h.7M395.4 90.7h.7M386.1 125.3h.7M397.1 102.1h.7M403.9 102.4h.7M385.8 129.3h.7M391.7 114.7h.7M393.3 88.5h.7M384.9 104.2h.7M402.6 88.5h.7M402.3 112.3h.7M385.4 113.2h.7M396.9 90.5h.7M378.5 114.9h.7M385.4 116.6h.7M380.0 105.2h.7M387.5 79.2h.7M391.4 111.3h.7M389.2 85.0h.7M394.4 74.0h.7M396.6 117.5h.7M404.4 125.2h.7M395.4 113.1h.7M393.2 82.2h.7M403.0 118.2h.7M391.1 85.7h.7M403.1 118.3h.7M384.9 121.1h.7M405.9 107.6h.7M395.7 99.9h.7M388.7 128.9h.7M413.9 110.3h.7M392.2 123.4h.7M390.9 122.2h.7M398.6 88.3h.7M385.7 106.6h.7M398.7 113.4h.7M401.4 81.3h.7M396.4 95.9h.7M393.7 114.2h.7M386.4 103.6h.7M385.1 113.2h.7M387.2 98.4h.7M394.5 95.3h.7M400.8 95.6h.7M398.8 113.5h.7M386.0 103.8h.7M387.3 101.0h.7M391.2 143.3h.7M390.2 138.4h.7M396.0 82.7h.7M377.3 121.1h.7M379.5 121.9h.7M400.0 115.6h.7M391.6 103.1h.7M394.8 102.1h.7M389.4 100.8h.7M400.9 96.0h.7M395.6 85.7h.7M388.2 81.4h.7M391.7 121.2h.7M395.1 98.5h.7M397.1 101.3h.7M395.5 113.3h.7M384.2 123.0h.7M391.4 97.3h.7M403.1 118.8h.7M405.9 117.9h.7M391.6 122.0h.7M387.7 99.4h.7M389.2 103.7h.7M398.3 98.7h.7M395.2 98.4h.7M391.6 111.3h.7M385.7 127.6h.7M394.5 132.8h.7M399.5 120.4h.7M392.0 87.0h.7M391.5 99.1h.7M394.7 99.0h.7M413.7 77.1h.7M400.9 98.9h.7M391.4 125.9h.7M393.0 84.6h.7M395.8 104.2h.7M379.1 111.8h.7M385.9 93.6h.7M396.3 113.8h.7M395.8 96.1h.7M394.6 105.7h.7M378.1 77.6h.7M391.8 102.7h.7M389.2 126.9h.7M393.2 140.9h.7M398.3 139.8h.7M392.2 115.2h.7M390.1 104.7h.7M381.3 96.8h.7M386.6 95.4h.7M401.2 113.0h.7M401.3 124.6h.7M399.2 127.4h.7M388.9 123.5h.7M390.8 97.8h.7M386.4 141.5h.7M398.6 91.7h.7M394.8 115.2h.7M395.5 101.1h.7M384.3 108.6h.7M398.8 123.1h.7M397.5 129.2h.7M386.3 107.2h.7M395.3 127.3h.7M394.1 118.0h.7M378.3 107.5h.7M409.7 112.5h.7M380.6 110.6h.7M383.3 94.9h.7M394.5 141.0h.7M396.1 120.9h.7M399.9 111.9h.7M387.2 106.1h.7M395.3 102.7h.7M388.5 101.1h.7M382.9 88.3h.7M392.4 101.1h.7M393.3 135.0h.7M395.0 107.4h.7M385.1 87.2h.7M395.5 91.2h.7M395.9 87.3h.7M393.9 106.6h.7M399.7 100.4h.7M390.5 112.7h.7M393.4 140.5h.7M391.3 97.7h.7M390.8 117.1h.7M394.6 121.3h.7M405.4 107.4h.7M384.9 111.0h.7M393.1 79.6h.7M396.1 134.6h.7M400.0 79.0h.7M402.3 125.4h.7M390.6 117.7h.7M403.2 101.6h.7M392.9 97.2h.7M402.6 89.4h.7M399.2 76.7h.7M386.7 96.5h.7M398.6 76.8h.7M397.1 95.8h.7M401.4 102.0h.7M396.3 104.7h.7M405.1 101.1h.7M392.8 146.2h.7M393.5 121.2h.7M388.0 111.8h.7M377.7 110.0h.7M388.6 79.1h.7M383.5 130.0h.7M395.9 78.8h.7M405.2 94.6h.7M390.5 112.7h.7M385.3 76.9h.7M388.0 130.7h.7M399.4 77.6h.7M401.1 108.7h.7M396.4 109.0h.7M395.8 88.7h.7M386.9 94.5h.7M390.5 119.9h.7M384.8 138.7h.7M388.7 96.7h.7M397.7 116.3h.7M390.7 87.4h.7M386.3 77.2h.7M400.7 128.9h.7M405.6 117.6h.7M395.2 122.6h.7M399.4 103.0h.7M381.6 80.9h.7M386.5 122.5h.7M401.0 101.5h.7M397.5 107.1h.7M395.0 97.6h.7M392.8 107.9h.7M380.8 118.3h.7M393.0 126.6h.7M400.2 123.0h.7M398.5 89.7h.7M381.5 140.1h.7M401.1 89.7h.7M401.7 120.8h.7M376.5 125.3h.7M386.3 130.5h.7M388.4 93.7h.7M382.6 103.8h.7M399.9 95.1h.7M405.4 121.3h.7M389.4 84.7h.7M382.0 118.8h.7M401.8 87.6h.7M393.0 102.7h.7M391.3 117.7h.7M407.1 95.7h.7M398.7 129.0h.7M391.1 105.1h.7M384.0 128.8h.7M389.4 95.4h.7M393.5 91.5h.7M386.0 102.3h.7M403.0 104.0h.7M396.6 79.7h.7M379.9 143.0h.7M390.3 78.3h.7M392.3 119.7h.7M381.3 91.0h.7M394.8 90.2h.7M398.4 126.6h.7M396.0 99.7h.7M392.7 95.8h.7M392.1 114.1h.7M391.0 126.8h.7M410.5 97.4h.7M395.3 123.9h.7M397.4 103.4h.7M389.8 127.4h.7M397.2 117.8h.7M387.6 120.2h.7M398.4 104.4h.7M380.3 119.7h.7M385.1 81.6h.7M391.4 118.5h.7M393.4 85.5h.7M383.3 97.2h.7M393.1 91.9h.7M382.8 141.9h.7M387.3 105.0h.7M389.3 96.7h.7M393.3 102.2h.7M397.2 85.1h.7M382.9 145.7h.7M392.5 122.9h.7M401.0 118.7h.7M393.2 77.9h.7M382.2 126.9h.7M397.6 119.0h.7M385.8 85.1h.7M394.1 88.2h.7M403.7 95.9h.7M389.2 124.7h.7M395.2 90.6h.7M398.6 145.3h.7M384.7 103.2h.7M397.3 121.5h.7M399.6 116.3h.7M379.3 107.5h.7M388.5 85.2h.7M385.5 122.9h.7M391.0 146.2h.7M399.1 132.3h.7M393.2 84.4h.7M405.0 82.5h.7M384.5 74.9h.7M400.4 130.9h.7M390.2 81.6h.7M392.6 115.4h.7M382.6 85.4h.7M392.3 121.7h.7M393.5 116.8h.7M395.1 90.1h.7M392.2 100.6h.7M396.3 92.9h.7M402.9 108.6h.7M396.6 120.3h.7M400.1 115.9h.7M381.0 95.7h.7M405.7 117.2h.7M396.8 117.1h.7M388.6 94.8h.7M388.6 130.6h.7M395.5 142.8h.7M396.4 145.0h.7M396.1 84.8h.7M404.9 114.6h.7M401.2 112.2h.7M390.8 111.3h.7M385.3 84.6h.7M386.9 97.7h.7M383.7 106.0h.7M405.6 107.0h.7M399.1 103.7h.7M395.7 107.3h.7M389.3 109.5h.7M382.8 116.6h.7M391.0 86.7h.7M390.5 118.9h.7M388.3 117.3h.7M396.9 138.7h.7M385.5 105.8h.7M396.5 137.5h.7M394.8 122.8h.7M382.9 96.5h.7M404.4 102.4h.7M407.9 93.7h.7M391.1 76.6h.7M397.4 113.2h.7M406.9 111.3h.7M391.3 80.2h.7M392.4 126.7h.7M398.1 132.2h.7M399.0 107.1h.7M397.2 111.4h.7M383.8 141.8h.7M395.6 87.2h.7M395.7 113.7h.7M399.9 136.5h.7M372.0 119.0h.7M403.6 89.3h.7M380.1 113.5h.7M395.3 114.9h.7M385.3 98.8h.7M394.3 122.7h.7M408.2 113.8h.7M400.4 105.4h.7M392.2 88.4h.7M393.8 110.4h.7M395.1 133.9h.7M392.3 109.9h.7M398.9 77.3h.7M391.0 109.3h.7M399.6 92.1h.7M398.6 115.6h.7M382.7 78.6h.7M383.0 110.8h.7M394.4 122.4h.7M398.7 97.0h.7M400.4 124.3h.7M396.3 117.5h.7M384.1 115.2h.7M385.8 84.3h.7M390.6 110.8h.7M392.6 101.4h.7M386.0 111.7h.7M387.8 80.0h.7M393.6 136.9h.7M390.2 86.9h.7M402.6 142.1h.7M391.0 103.8h.7M393.9 127.8h.7M385.3 83.5h.7M396.0 110.1h.7M405.5 102.6h.7M395.1 109.5h.7M395.0 137.3h.7M402.0 95.9h.7M397.8 100.4h.7M393.8 111.2h.7M393.1 98.6h.7M403.9 102.7h.7M397.9 141.5h.7M397.4 128.5h.7M402.7 129.7h.7M405.0 79.5h.7M406.7 108.6h.7M380.8 95.2h.7M383.3 107.6h.7M382.6 87.9h.7M395.1 111.1h.7M387.4 103.3h.7M392.3 109.5h.7M393.0 103.6h.7M399.1 75.9h.7M389.6 110.7h.7M390.2 97.0h.7M389.9 112.2h.7M401.7 104.3h.7M391.1 115.1h.7M394.9 100.5h.7M389.0 120.6h.7M393.3 96.7h.7M377.8 73.6h.7M393.1 105.7h.7M396.1 112.5h.7M389.7 82.7h.7M385.3 105.2h.7M385.0 123.1h.7M404.4 88.2h.7M392.6 103.1h.7M380.0 125.3h.7M382.8 119.2h.7M392.9 124.9h.7M389.4 122.4h.7M399.3 120.1h.7M403.1 104.5h.7M403.8 94.0h.7" stroke="#9a9a9a" stroke-width="0.7" fill="none"/>
<g transform="translate(395,110)">
<path d="M-13,-40 C-12,-32 -15,-27 -14,-20 C-13,-13 -11,-8 -12,-2 C-13,4 -15.5,10 -15.5,17 C-15.5,25 -11,33 -3,34.5 C4,35.5 9,31 11,24 C13,16 13,5 12,-4 C11,-14 12.5,-26 12.5,-40Z" fill="#f4f4f4" stroke="#8c8c8c" stroke-width="0.5"/>
<path d="M-9,-40 C-8.5,-30 -9.5,-24 -8.5,-17 C-7.5,-10 -8.5,-6 -9.5,0 C-10.5,6 -11.5,12 -11,19 C-10.5,27 -6,31.5 -1,31.5 C4,31.5 8,28 9.5,21 C11,14 11,4 10,-5 C9,-15 10.5,-27 10.5,-40Z" fill="#e6e6e6" stroke="#6e6e6e" stroke-width="0.5"/>
<path d="M-7.2,-40 C-6.8,-30 -7.6,-24 -6.8,-17 C-6,-10 -6.8,-6 -7.6,0 C-8.4,6 -9.4,12 -9,19 C-8.6,25.5 -5,29 -1,29 C3,29 6.4,26 7.7,20 C9,14 9,4 8.2,-5 C7.4,-15 8.6,-27 8.6,-40Z" fill="#d0d0d0" stroke="#777" stroke-width="0.5"/>
<ellipse cx="0.2" cy="-27" rx="5.2" ry="11.5" fill="#a4a4a4" stroke="#5a5a5a" stroke-width="0.5"/>
<ellipse cx="0.2" cy="-27.5" rx="3.6" ry="9" fill="#6a6a6a" stroke="#3a3a3a" stroke-width="0.4"/>
<ellipse cx="0.2" cy="-28" rx="2.3" ry="6.5" fill="#262626" stroke="none" stroke-width="0.5"/>
<ellipse cx="0.4" cy="-28" rx="0.7" ry="3.4" fill="#e0e0e0" stroke="none" stroke-width="0.5"/>
<ellipse cx="0" cy="8" rx="6.6" ry="16" fill="#a4a4a4" stroke="#5a5a5a" stroke-width="0.5"/>
<ellipse cx="0" cy="7.5" rx="4.9" ry="13" fill="#6a6a6a" stroke="#3a3a3a" stroke-width="0.4"/>
<ellipse cx="0" cy="7" rx="3.4" ry="10.5" fill="#262626" stroke="none" stroke-width="0.5"/>
<ellipse cx="0.8" cy="5.5" rx="0.9" ry="4.6" fill="#ececec" stroke="none" stroke-width="0.5"/>
<rect x="-3" y="-38.2" width="12" height="2.6" fill="#111"/>
</g></g></g>
<rect x="44.3" y="72.0" width="76.0" height="75.5" fill="none" stroke="#000" stroke-width="1.65"/>
<line x1="44.3" y1="130.4" x2="120.3" y2="130.4" stroke="#000" stroke-width="1.35" stroke-linecap="butt"/>
<rect x="130" y="72.0" width="75.5" height="75.5" fill="none" stroke="#000" stroke-width="1.65"/>
<line x1="130" y1="130.4" x2="205.5" y2="130.4" stroke="#000" stroke-width="1.35" stroke-linecap="butt"/>
<rect x="209" y="72.0" width="76" height="75.5" fill="none" stroke="#000" stroke-width="1.65"/>
<line x1="209" y1="130.4" x2="285" y2="130.4" stroke="#000" stroke-width="1.35" stroke-linecap="butt"/>
<rect x="288.5" y="72.0" width="75.25" height="75.5" fill="none" stroke="#000" stroke-width="1.65"/>
<line x1="288.5" y1="130.4" x2="363.75" y2="130.4" stroke="#000" stroke-width="1.35" stroke-linecap="butt"/>
<rect x="367.5" y="72.0" width="76.25" height="75.5" fill="none" stroke="#000" stroke-width="1.65"/>
<line x1="367.5" y1="130.4" x2="443.75" y2="130.4" stroke="#000" stroke-width="1.35" stroke-linecap="butt"/>
<text x="115.2" y="87.8" font-size="10.5" text-anchor="end" >97 %</text>
<text x="198" y="87.8" font-size="10.5" text-anchor="end" >1%</text>
<text x="276.3" y="87.8" font-size="10.5" text-anchor="end" >70%</text>
<text x="357.5" y="87.8" font-size="10.5" text-anchor="end" >86%</text>
<text x="436.3" y="87.8" font-size="10.5" text-anchor="end" >88%</text>
<text transform="translate(36.8,110) rotate(-90)" font-size="10.3" text-anchor="middle">CD277</text>
<text x="82" y="159.5" font-size="10.3" text-anchor="middle" >shControl</text>
<text x="286.3" y="161" font-size="10.3" text-anchor="middle" >sh#284</text>
<text x="2.3" y="194.6" font-size="18.8" text-anchor="start" >B</text>
<line x1="41.8" y1="213.9" x2="41.8" y2="377.5" stroke="#000" stroke-width="1.3" stroke-linecap="butt"/>
<line x1="41.199999999999996" y1="376.9" x2="222.8" y2="376.9" stroke="#000" stroke-width="1.3" stroke-linecap="butt"/>
<line x1="38.3" y1="376.9" x2="41.8" y2="376.9" stroke="#000" stroke-width="1.2" stroke-linecap="butt"/>
<text x="38" y="380.7" font-size="10.5" text-anchor="end" >0</text>
<line x1="38.3" y1="336.29999999999995" x2="41.8" y2="336.29999999999995" stroke="#000" stroke-width="1.2" stroke-linecap="butt"/>
<text x="38" y="340.09999999999997" font-size="10.5" text-anchor="end" >20</text>
<line x1="38.3" y1="295.7" x2="41.8" y2="295.7" stroke="#000" stroke-width="1.2" stroke-linecap="butt"/>
<text x="38" y="299.5" font-size="10.5" text-anchor="end" >40</text>
<line x1="38.3" y1="255.1" x2="41.8" y2="255.1" stroke="#000" stroke-width="1.2" stroke-linecap="butt"/>
<text x="38" y="258.9" font-size="10.5" text-anchor="end" >60</text>
<line x1="38.3" y1="214.5" x2="41.8" y2="214.5" stroke="#000" stroke-width="1.2" stroke-linecap="butt"/>
<text x="38" y="218.3" font-size="10.5" text-anchor="end" >80</text>
<line x1="77.5" y1="376.9" x2="77.5" y2="380.4" stroke="#000" stroke-width="1.2" stroke-linecap="butt"/>
<line x1="113.75" y1="376.9" x2="113.75" y2="380.4" stroke="#000" stroke-width="1.2" stroke-linecap="butt"/>
<line x1="150.0" y1="376.9" x2="150.0" y2="380.4" stroke="#000" stroke-width="1.2" stroke-linecap="butt"/>
<line x1="186.25" y1="376.9" x2="186.25" y2="380.4" stroke="#000" stroke-width="1.2" stroke-linecap="butt"/>
<line x1="222.5" y1="376.9" x2="222.5" y2="380.4" stroke="#000" stroke-width="1.2" stroke-linecap="butt"/>
<text transform="translate(16.3,298.6) rotate(-90)" font-size="9.45" text-anchor="middle">CD107a (% positive)</text>
<rect x="47.3" y="215.4" width="10.0" height="8.4" fill="#fff" stroke="#000" stroke-width="1.6"/>
<rect x="47.3" y="228.3" width="10.0" height="8.4" fill="#c4c4c4" stroke="#000" stroke-width="1.6"/>
<rect x="121" y="215.6" width="10.6" height="9.8" fill="#000" stroke="#000" stroke-width="0"/>
<text x="62" y="223.6" font-size="9.45" text-anchor="start" >Medium</text>
<text x="62" y="236.4" font-size="9.45" text-anchor="start" >Pamidronate</text>
<text x="132.8" y="223.8" font-size="9.45" text-anchor="start" ><tspan font-family="Liberation Sans, DejaVu Sans, sans-serif" font-size="10.7">α</tspan>-CD277</text>
<rect x="47.65" y="369.89" width="8.15" height="7.51" fill="#fff" stroke="#000" stroke-width="1.3"/>
<rect x="55.80" y="259.05" width="8.15" height="118.35" fill="#c8c8c8" stroke="#000" stroke-width="1.3"/>
<rect x="63.45" y="253.07" width="8.55" height="123.83" fill="#000"/>
<rect x="83.90" y="375.57" width="8.15" height="1.83" fill="#fff" stroke="#000" stroke-width="1.3"/>
<rect x="92.05" y="373.95" width="8.15" height="3.45" fill="#c8c8c8" stroke="#000" stroke-width="1.3"/>
<rect x="99.70" y="375.28" width="8.55" height="1.62" fill="#000"/>
<rect x="120.15" y="375.37" width="8.15" height="2.03" fill="#fff" stroke="#000" stroke-width="1.3"/>
<rect x="128.30" y="252.15" width="8.15" height="125.25" fill="#c8c8c8" stroke="#000" stroke-width="1.3"/>
<rect x="135.95" y="291.64" width="8.55" height="85.26" fill="#000"/>
<rect x="156.40" y="372.93" width="8.15" height="4.47" fill="#fff" stroke="#000" stroke-width="1.3"/>
<rect x="164.55" y="368.87" width="8.15" height="8.53" fill="#c8c8c8" stroke="#000" stroke-width="1.3"/>
<rect x="172.20" y="308.69" width="8.55" height="68.21" fill="#000"/>
<rect x="192.65" y="373.95" width="8.15" height="3.45" fill="#fff" stroke="#000" stroke-width="1.3"/>
<rect x="200.80" y="344.31" width="8.15" height="33.09" fill="#c8c8c8" stroke="#000" stroke-width="1.3"/>
<rect x="208.45" y="292.45" width="8.55" height="84.45" fill="#000"/>
<text transform="translate(64.5,384.3) rotate(-45)" font-size="9.45" text-anchor="end">shControl</text>
<text transform="translate(101.8,386.6) rotate(-45)" font-size="9.45" text-anchor="end">Empty</text>
<text transform="translate(109.3,394.3) rotate(-45)" font-size="9.45" text-anchor="end">vector</text>
<text transform="translate(139,386) rotate(-45)" font-size="9.45" text-anchor="end">BTN3A1<tspan font-size="7.8" dy="-3.4">m</tspan></text>
<text transform="translate(175.5,386) rotate(-45)" font-size="9.45" text-anchor="end">BTN3A2<tspan font-size="7.8" dy="-3.4">m</tspan></text>
<text transform="translate(212,386) rotate(-45)" font-size="9.45" text-anchor="end">BTN3A3<tspan font-size="7.8" dy="-3.4">m</tspan></text>
<text x="239" y="195" font-size="18.8" text-anchor="start" >C</text>
<line x1="287.5" y1="224.79999999999998" x2="287.5" y2="377.8" stroke="#000" stroke-width="1.7" stroke-linecap="butt"/>
<line x1="286.9" y1="377.2" x2="449.3" y2="377.2" stroke="#000" stroke-width="1.7" stroke-linecap="butt"/>
<line x1="283.0" y1="377.2" x2="287.5" y2="377.2" stroke="#000" stroke-width="1.3" stroke-linecap="butt"/>
<line x1="285.0" y1="361.96788221940255" x2="287.5" y2="361.96788221940255" stroke="#000" stroke-width="0.9" stroke-linecap="butt"/>
<line x1="285.0" y1="353.05766451118507" x2="287.5" y2="353.05766451118507" stroke="#000" stroke-width="0.9" stroke-linecap="butt"/>
<line x1="285.0" y1="346.73576443880506" x2="287.5" y2="346.73576443880506" stroke="#000" stroke-width="0.9" stroke-linecap="butt"/>
<line x1="285.0" y1="341.83211778059746" x2="287.5" y2="341.83211778059746" stroke="#000" stroke-width="0.9" stroke-linecap="butt"/>
<line x1="285.0" y1="337.82554673058763" x2="287.5" y2="337.82554673058763" stroke="#000" stroke-width="0.9" stroke-linecap="butt"/>
<line x1="285.0" y1="334.4380391752786" x2="287.5" y2="334.4380391752786" stroke="#000" stroke-width="0.9" stroke-linecap="butt"/>
<line x1="285.0" y1="331.50364665820763" x2="287.5" y2="331.50364665820763" stroke="#000" stroke-width="0.9" stroke-linecap="butt"/>
<line x1="285.0" y1="328.91532902237014" x2="287.5" y2="328.91532902237014" stroke="#000" stroke-width="0.9" stroke-linecap="butt"/>
<line x1="283.0" y1="326.59999999999997" x2="287.5" y2="326.59999999999997" stroke="#000" stroke-width="1.3" stroke-linecap="butt"/>
<line x1="285.0" y1="311.36788221940253" x2="287.5" y2="311.36788221940253" stroke="#000" stroke-width="0.9" stroke-linecap="butt"/>
<line x1="285.0" y1="302.45766451118504" x2="287.5" y2="302.45766451118504" stroke="#000" stroke-width="0.9" stroke-linecap="butt"/>
<line x1="285.0" y1="296.1357644388051" x2="287.5" y2="296.1357644388051" stroke="#000" stroke-width="0.9" stroke-linecap="butt"/>
<line x1="285.0" y1="291.23211778059743" x2="287.5" y2="291.23211778059743" stroke="#000" stroke-width="0.9" stroke-linecap="butt"/>
<line x1="285.0" y1="287.2255467305876" x2="287.5" y2="287.2255467305876" stroke="#000" stroke-width="0.9" stroke-linecap="butt"/>
<line x1="285.0" y1="283.8380391752786" x2="287.5" y2="283.8380391752786" stroke="#000" stroke-width="0.9" stroke-linecap="butt"/>
<line x1="285.0" y1="280.90364665820766" x2="287.5" y2="280.90364665820766" stroke="#000" stroke-width="0.9" stroke-linecap="butt"/>
<line x1="285.0" y1="278.3153290223702" x2="287.5" y2="278.3153290223702" stroke="#000" stroke-width="0.9" stroke-linecap="butt"/>
<line x1="283.0" y1="276.0" x2="287.5" y2="276.0" stroke="#000" stroke-width="1.3" stroke-linecap="butt"/>
<line x1="285.0" y1="260.7678822194025" x2="287.5" y2="260.7678822194025" stroke="#000" stroke-width="0.9" stroke-linecap="butt"/>
<line x1="285.0" y1="251.85766451118508" x2="287.5" y2="251.85766451118508" stroke="#000" stroke-width="0.9" stroke-linecap="butt"/>
<line x1="285.0" y1="245.53576443880507" x2="287.5" y2="245.53576443880507" stroke="#000" stroke-width="0.9" stroke-linecap="butt"/>
<line x1="285.0" y1="240.63211778059744" x2="287.5" y2="240.63211778059744" stroke="#000" stroke-width="0.9" stroke-linecap="butt"/>
<line x1="285.0" y1="236.62554673058762" x2="287.5" y2="236.62554673058762" stroke="#000" stroke-width="0.9" stroke-linecap="butt"/>
<line x1="285.0" y1="233.23803917527857" x2="287.5" y2="233.23803917527857" stroke="#000" stroke-width="0.9" stroke-linecap="butt"/>
<line x1="285.0" y1="230.30364665820764" x2="287.5" y2="230.30364665820764" stroke="#000" stroke-width="0.9" stroke-linecap="butt"/>
<line x1="285.0" y1="227.71532902237016" x2="287.5" y2="227.71532902237016" stroke="#000" stroke-width="0.9" stroke-linecap="butt"/>
<line x1="283.0" y1="225.39999999999998" x2="287.5" y2="225.39999999999998" stroke="#000" stroke-width="1.3" stroke-linecap="butt"/>
<text x="280.8" y="381.0" font-size="10.5" text-anchor="end" >1</text>
<text x="280.8" y="330.4" font-size="10.5" text-anchor="end" >10</text>
<text x="280.8" y="279.8" font-size="10.5" text-anchor="end" >100</text>
<text x="280.8" y="229.2" font-size="10.5" text-anchor="end" >1,000</text>
<line x1="287.5" y1="377.2" x2="287.5" y2="381.2" stroke="#000" stroke-width="1.3" stroke-linecap="butt"/>
<text x="287.5" y="392.5" font-size="10.5" text-anchor="middle" >0</text>
<line x1="333.75" y1="377.2" x2="333.75" y2="381.2" stroke="#000" stroke-width="1.3" stroke-linecap="butt"/>
<text x="333.75" y="392.5" font-size="10.5" text-anchor="middle" >1</text>
<line x1="380.0" y1="377.2" x2="380.0" y2="381.2" stroke="#000" stroke-width="1.3" stroke-linecap="butt"/>
<text x="380.0" y="392.5" font-size="10.5" text-anchor="middle" >2</text>
<line x1="426.25" y1="377.2" x2="426.25" y2="381.2" stroke="#000" stroke-width="1.3" stroke-linecap="butt"/>
<text x="426.25" y="392.5" font-size="10.5" text-anchor="middle" >3</text>
<text transform="translate(257,300.5) rotate(-90)" font-size="10.3" text-anchor="middle">Specific TNF-<tspan font-family="Liberation Sans, DejaVu Sans, sans-serif">α</tspan> (pg/ml)</text>
<text x="374.3" y="406.3" font-size="10.3" text-anchor="middle" >BrHPP (<tspan font-family="Liberation Sans, DejaVu Sans, sans-serif">μ</tspan>M)</text>
<polyline points="287.50,357.06 296.75,265.67 324.50,257.22 361.50,244.46 435.50,244.46" fill="none" stroke="#000" stroke-width="2.0" stroke-linejoin="round"/>
<polyline points="287.50,377.20 296.75,307.36 324.50,283.84 361.50,278.81 435.50,268.61" fill="none" stroke="#000" stroke-width="2.0" stroke-linejoin="round"/>
<polyline points="287.50,377.20 296.75,377.20 324.50,377.20 361.50,374.13 435.50,331.50" fill="none" stroke="#000" stroke-width="2.0" stroke-linejoin="round"/>
<polyline points="287.50,377.20 296.75,377.20 324.50,377.20 361.50,353.80 435.50,360.90" fill="none" stroke="#000" stroke-width="1.7" stroke-linejoin="round"/>
<polyline points="287.50,377.20 296.75,377.20 324.50,377.20 361.50,357.06 435.50,363.10" fill="none" stroke="#000" stroke-width="1.7" stroke-linejoin="round"/>
<line x1="296.75" y1="261.89506779178686" x2="296.75" y2="270.234466373274" stroke="#000" stroke-width="1.6" stroke-linecap="butt"/>
<line x1="293.45" y1="261.89506779178686" x2="300.05" y2="261.89506779178686" stroke="#000" stroke-width="1.6" stroke-linecap="butt"/>
<line x1="293.45" y1="270.234466373274" x2="300.05" y2="270.234466373274" stroke="#000" stroke-width="1.6" stroke-linecap="butt"/>
<line x1="324.5" y1="366.19531242277634" x2="324.5" y2="377.2" stroke="#000" stroke-width="1.6" stroke-linecap="butt"/>
<line x1="321.2" y1="366.19531242277634" x2="327.8" y2="366.19531242277634" stroke="#000" stroke-width="1.6" stroke-linecap="butt"/>
<line x1="321.2" y1="377.2" x2="327.8" y2="377.2" stroke="#000" stroke-width="1.6" stroke-linecap="butt"/>
<line x1="361.5" y1="338.1948882109075" x2="361.5" y2="366.8715288776102" stroke="#000" stroke-width="1.6" stroke-linecap="butt"/>
<line x1="358.2" y1="338.1948882109075" x2="364.8" y2="338.1948882109075" stroke="#000" stroke-width="1.6" stroke-linecap="butt"/>
<line x1="358.2" y1="366.8715288776102" x2="364.8" y2="366.8715288776102" stroke="#000" stroke-width="1.6" stroke-linecap="butt"/>
<line x1="361.5" y1="368.2897822917825" x2="361.5" y2="377.2" stroke="#000" stroke-width="1.6" stroke-linecap="butt"/>
<line x1="358.2" y1="368.2897822917825" x2="364.8" y2="368.2897822917825" stroke="#000" stroke-width="1.6" stroke-linecap="butt"/>
<line x1="358.2" y1="377.2" x2="364.8" y2="377.2" stroke="#000" stroke-width="1.6" stroke-linecap="butt"/>
<line x1="435.5" y1="326.16483130884694" x2="435.5" y2="336.75336819764874" stroke="#000" stroke-width="1.6" stroke-linecap="butt"/>
<line x1="432.2" y1="326.16483130884694" x2="438.8" y2="326.16483130884694" stroke="#000" stroke-width="1.6" stroke-linecap="butt"/>
<line x1="432.2" y1="336.75336819764874" x2="438.8" y2="336.75336819764874" stroke="#000" stroke-width="1.6" stroke-linecap="butt"/>
<line x1="435.5" y1="348.44899276221" x2="435.5" y2="375.1055301309938" stroke="#000" stroke-width="1.6" stroke-linecap="butt"/>
<line x1="432.2" y1="348.44899276221" x2="438.8" y2="348.44899276221" stroke="#000" stroke-width="1.6" stroke-linecap="butt"/>
<line x1="432.2" y1="375.1055301309938" x2="438.8" y2="375.1055301309938" stroke="#000" stroke-width="1.6" stroke-linecap="butt"/>
<circle cx="287.50" cy="357.06" r="4.4" fill="#000"/>
<circle cx="296.75" cy="265.67" r="4.4" fill="#000"/>
<circle cx="324.50" cy="257.22" r="4.4" fill="#000"/>
<circle cx="361.50" cy="244.46" r="4.4" fill="#000"/>
<circle cx="435.50" cy="244.46" r="4.4" fill="#000"/>
<circle cx="287.50" cy="377.20" r="3.8000000000000003" fill="#fff" stroke="#000" stroke-width="1.4"/>
<circle cx="296.75" cy="307.36" r="3.8000000000000003" fill="#fff" stroke="#000" stroke-width="1.4"/>
<circle cx="324.50" cy="283.84" r="3.8000000000000003" fill="#fff" stroke="#000" stroke-width="1.4"/>
<circle cx="361.50" cy="278.81" r="3.8000000000000003" fill="#fff" stroke="#000" stroke-width="1.4"/>
<circle cx="435.50" cy="268.61" r="3.8000000000000003" fill="#fff" stroke="#000" stroke-width="1.4"/>
<path d="M282.60,381.12 L292.40,381.12 L287.50,372.30Z" fill="#000"/>
<path d="M291.85,381.12 L301.65,381.12 L296.75,372.30Z" fill="#000"/>
<path d="M319.60,381.12 L329.40,381.12 L324.50,372.30Z" fill="#000"/>
<path d="M356.60,378.05 L366.40,378.05 L361.50,369.23Z" fill="#000"/>
<path d="M430.60,335.42 L440.40,335.42 L435.50,326.60Z" fill="#000"/>
<path d="M282.60,373.28 L292.40,373.28 L287.50,382.10Z" fill="#000"/>
<path d="M291.85,373.28 L301.65,373.28 L296.75,382.10Z" fill="#000"/>
<path d="M319.60,373.28 L329.40,373.28 L324.50,382.10Z" fill="#000"/>
<path d="M356.60,349.88 L366.40,349.88 L361.50,358.70Z" fill="#000"/>
<path d="M430.60,356.98 L440.40,356.98 L435.50,365.80Z" fill="#000"/>
<path d="M283.5,377.2 L287.5,373.2 L291.5,377.2 L287.5,381.2Z" fill="#000"/>
<path d="M292.75,377.2 L296.75,373.2 L300.75,377.2 L296.75,381.2Z" fill="#000"/>
<path d="M320.5,377.2 L324.5,373.2 L328.5,377.2 L324.5,381.2Z" fill="#000"/>
<path d="M357.5,357.0642355611949 L361.5,353.0642355611949 L365.5,357.0642355611949 L361.5,361.0642355611949Z" fill="#000"/>
<path d="M431.5,363.09506779178685 L435.5,359.09506779178685 L439.5,363.09506779178685 L435.5,367.09506779178685Z" fill="#000"/>
<rect x="283.80" y="373.30" width="7.4" height="7.8" rx="1" fill="#000"/>
<rect x="293.05" y="373.30" width="7.4" height="7.8" rx="1" fill="#000"/>
<rect x="320.80" y="373.30" width="7.4" height="7.8" rx="1" fill="#000"/>
<rect x="283.80" y="353.16" width="7.4" height="7.8" rx="1" fill="#000"/>
<rect x="292.95" y="261.87" width="7.6" height="7.6" fill="#000"/>
<line x1="443.3" y1="243" x2="443.3" y2="270.8" stroke="#000" stroke-width="1.3" stroke-linecap="butt"/>
<line x1="443.3" y1="256.3" x2="448" y2="256.3" stroke="#000" stroke-width="1.3" stroke-linecap="butt"/>
<line x1="448" y1="255.7" x2="448" y2="361.4" stroke="#000" stroke-width="1.3" stroke-linecap="butt"/>
<line x1="443.6" y1="360.8" x2="448" y2="360.8" stroke="#000" stroke-width="1.3" stroke-linecap="butt"/>
<text x="453" y="244.6" font-size="10.3" text-anchor="start" >shControl</text>
<text x="453" y="269.6" font-size="10.3" text-anchor="start" >BTN3A1<tspan font-size="7.8" dy="-3.4">m</tspan></text>
<text x="452.3" y="315.5" font-size="17" text-anchor="start" >*</text>
<text x="453" y="332.7" font-size="10.3" text-anchor="start" >BTN3A2<tspan font-size="7.8" dy="-3.4">m</tspan></text>
<text x="453" y="355.6" font-size="10.3" text-anchor="start" >BTN3A3<tspan font-size="7.8" dy="-3.4">m</tspan></text>
<text x="453" y="367.2" font-size="10.3" text-anchor="start" >Empty vector</text>
<text x="1.6" y="442.6" font-size="18.8" text-anchor="start" >D</text>
<line x1="41.7" y1="453.8" x2="41.7" y2="632.7" stroke="#000" stroke-width="1.3" stroke-linecap="butt"/>
<line x1="41.1" y1="632.1" x2="205" y2="632.1" stroke="#000" stroke-width="1.3" stroke-linecap="butt"/>
<line x1="38.2" y1="632.1" x2="41.7" y2="632.1" stroke="#000" stroke-width="1.2" stroke-linecap="butt"/>
<text x="37" y="635.9" font-size="10.5" text-anchor="end" >0</text>
<line x1="38.2" y1="596.5600000000001" x2="41.7" y2="596.5600000000001" stroke="#000" stroke-width="1.2" stroke-linecap="butt"/>
<text x="37" y="600.36" font-size="10.5" text-anchor="end" >10</text>
<line x1="38.2" y1="561.02" x2="41.7" y2="561.02" stroke="#000" stroke-width="1.2" stroke-linecap="butt"/>
<text x="37" y="564.8199999999999" font-size="10.5" text-anchor="end" >20</text>
<line x1="38.2" y1="525.48" x2="41.7" y2="525.48" stroke="#000" stroke-width="1.2" stroke-linecap="butt"/>
<text x="37" y="529.28" font-size="10.5" text-anchor="end" >30</text>
<line x1="38.2" y1="489.94000000000005" x2="41.7" y2="489.94000000000005" stroke="#000" stroke-width="1.2" stroke-linecap="butt"/>
<text x="37" y="493.74000000000007" font-size="10.5" text-anchor="end" >40</text>
<line x1="38.2" y1="454.40000000000003" x2="41.7" y2="454.40000000000003" stroke="#000" stroke-width="1.2" stroke-linecap="butt"/>
<text x="37" y="458.20000000000005" font-size="10.5" text-anchor="end" >50</text>
<line x1="82.25" y1="632.1" x2="82.25" y2="635.6" stroke="#000" stroke-width="1.2" stroke-linecap="butt"/>
<line x1="123.0" y1="632.1" x2="123.0" y2="635.6" stroke="#000" stroke-width="1.2" stroke-linecap="butt"/>
<line x1="163.75" y1="632.1" x2="163.75" y2="635.6" stroke="#000" stroke-width="1.2" stroke-linecap="butt"/>
<line x1="204.5" y1="632.1" x2="204.5" y2="635.6" stroke="#000" stroke-width="1.2" stroke-linecap="butt"/>
<text transform="translate(16.3,543.2) rotate(-90)" font-size="9.45" text-anchor="middle">CD107a (% positive)</text>
<rect x="46.5" y="444" width="11.3" height="9.6" fill="#000" stroke="#000" stroke-width="0"/>
<rect x="47.2" y="459.6" width="10.2" height="8.3" fill="#fff" stroke="#000" stroke-width="1.6"/>
<text x="59.6" y="452.4" font-size="9.45" text-anchor="start" ><tspan font-family="Liberation Sans, DejaVu Sans, sans-serif" font-size="10.7">α</tspan>-CD277</text>
<text x="62.0" y="467.2" font-size="9.45" text-anchor="start" >Pamidronate</text>
<rect x="49.77" y="516.24" width="12.40" height="115.86" fill="#000"/>
<rect x="62.17" y="513.19" width="11.90" height="118.91" fill="#fff" stroke="#000" stroke-width="1.1"/>
<line x1="56.725" y1="489.94000000000005" x2="56.725" y2="516.2396" stroke="#222" stroke-width="1.2" stroke-linecap="butt"/>
<line x1="55.325" y1="489.94000000000005" x2="58.125" y2="489.94000000000005" stroke="#222" stroke-width="1.1" stroke-linecap="butt"/>
<line x1="68.52499999999999" y1="509.13160000000005" x2="68.52499999999999" y2="512.6856" stroke="#222" stroke-width="1.2" stroke-linecap="butt"/>
<line x1="67.12499999999999" y1="509.13160000000005" x2="69.925" y2="509.13160000000005" stroke="#222" stroke-width="1.1" stroke-linecap="butt"/>
<rect x="90.53" y="556.40" width="12.40" height="75.70" fill="#000"/>
<rect x="102.92" y="631.53" width="11.90" height="0.57" fill="#fff" stroke="#000" stroke-width="1.1"/>
<line x1="97.47500000000001" y1="522.6368" x2="97.47500000000001" y2="556.3998" stroke="#222" stroke-width="1.2" stroke-linecap="butt"/>
<line x1="96.075" y1="522.6368" x2="98.87500000000001" y2="522.6368" stroke="#222" stroke-width="1.1" stroke-linecap="butt"/>
<line x1="109.27499999999999" y1="627.1244" x2="109.27499999999999" y2="631.0338" stroke="#222" stroke-width="1.2" stroke-linecap="butt"/>
<line x1="107.87499999999999" y1="627.1244" x2="110.675" y2="627.1244" stroke="#222" stroke-width="1.1" stroke-linecap="butt"/>
<rect x="131.28" y="534.37" width="12.40" height="97.73" fill="#000"/>
<rect x="143.68" y="626.38" width="11.90" height="5.72" fill="#fff" stroke="#000" stroke-width="1.1"/>
<line x1="138.225" y1="489.94000000000005" x2="138.225" y2="534.365" stroke="#222" stroke-width="1.2" stroke-linecap="butt"/>
<line x1="136.825" y1="489.94000000000005" x2="139.625" y2="489.94000000000005" stroke="#222" stroke-width="1.1" stroke-linecap="butt"/>
<line x1="150.025" y1="621.7934" x2="150.025" y2="625.8805" stroke="#222" stroke-width="1.2" stroke-linecap="butt"/>
<line x1="148.625" y1="621.7934" x2="151.425" y2="621.7934" stroke="#222" stroke-width="1.1" stroke-linecap="butt"/>
<rect x="172.03" y="510.55" width="12.40" height="121.55" fill="#000"/>
<rect x="184.43" y="465.56" width="11.90" height="166.54" fill="#fff" stroke="#000" stroke-width="1.1"/>
<line x1="178.975" y1="456.177" x2="178.975" y2="510.5532" stroke="#222" stroke-width="1.2" stroke-linecap="butt"/>
<line x1="177.575" y1="456.177" x2="180.375" y2="456.177" stroke="#222" stroke-width="1.1" stroke-linecap="butt"/>
<line x1="190.775" y1="461.50800000000004" x2="190.775" y2="465.062" stroke="#222" stroke-width="1.2" stroke-linecap="butt"/>
<line x1="189.375" y1="461.50800000000004" x2="192.175" y2="461.50800000000004" stroke="#222" stroke-width="1.1" stroke-linecap="butt"/>
<line x1="97.5" y1="519.6" x2="108.8" y2="519.6" stroke="#000" stroke-width="1.2" stroke-linecap="butt"/>
<text x="103" y="519.3" font-size="14.5" text-anchor="middle" >*</text>
<line x1="138.6" y1="486.8" x2="149.6" y2="486.8" stroke="#000" stroke-width="1.2" stroke-linecap="butt"/>
<text x="143.9" y="486.4" font-size="14.5" text-anchor="middle" >*</text>
<text transform="translate(71.5,643) rotate(-45)" font-size="9.45" text-anchor="end">BTN3A1<tspan font-size="7.8" dy="-3.4">m</tspan></text>
<text transform="translate(110.5,642.5) rotate(-45)" font-size="9.45" text-anchor="end">BTN3A1<tspan font-size="7.8" dy="-3.4">m</tspan></text>
<text transform="translate(113.8,654.7) rotate(-45)" font-size="9.45" text-anchor="end"><tspan font-family="Liberation Sans, DejaVu Sans, sans-serif">Δ</tspan>B30.2</text>
<text transform="translate(154.5,643.5) rotate(-45)" font-size="9.45" text-anchor="end">BTN3A3<tspan font-size="7.8" dy="-3.4">m</tspan></text>
<text transform="translate(192.5,643) rotate(-45)" font-size="9.45" text-anchor="end">BTN3A3<tspan font-size="7.8" dy="-3.4">m</tspan></text>
<text transform="translate(199.8,650.8) rotate(-45)" font-size="9.45" text-anchor="end">B30.2 A1</text>
</svg>
</body></html>
